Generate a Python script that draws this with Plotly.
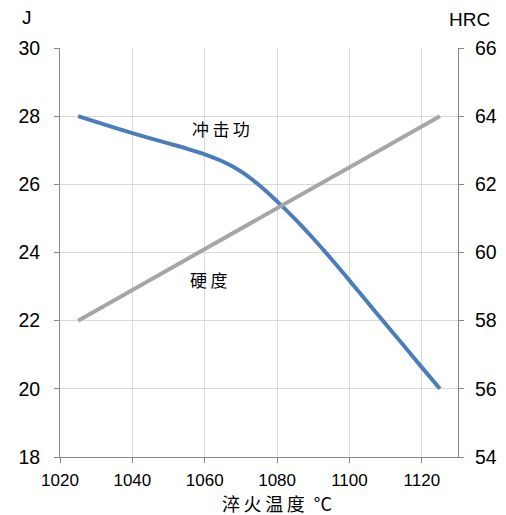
import plotly.graph_objects as go

temps_impact = [1025, 1030, 1035, 1040, 1045, 1050, 1055, 1060, 1065, 1070, 1075,
                1080, 1085, 1090, 1095, 1100, 1105, 1110, 1115, 1120, 1125]
impact_J = [28.00, 27.83, 27.665, 27.505, 27.35, 27.20, 27.05, 26.88, 26.67, 26.38, 25.98,
            25.50, 24.98, 24.41, 23.81, 23.18, 22.54, 21.90, 21.27, 20.63, 20.00]

temps_hard = [1025, 1050, 1075, 1100, 1125]
hardness_HRC = [58.0, 59.5, 61.0, 62.5, 64.0]

x_ticks = [1020, 1040, 1060, 1080, 1100, 1120]
left_ticks = [18, 20, 22, 24, 26, 28, 30]
right_ticks = [54, 56, 58, 60, 62, 64, 66]

font_latin = "Liberation Sans, Arial, sans-serif"
font_cjk = "Noto Sans CJK SC, sans-serif"

W, H = 506, 515
ML, MR, MT, MB = 60, 48, 48, 58

fig = go.Figure()
fig.add_trace(go.Scatter(
    x=temps_impact, y=impact_J, mode="lines",
    line=dict(color="#4a7ebb", width=4, shape="spline", smoothing=1.0),
    yaxis="y", showlegend=False, hoverinfo="skip"))
fig.add_trace(go.Scatter(
    x=temps_hard, y=hardness_HRC, mode="lines",
    line=dict(color="#a6a6a6", width=4),
    yaxis="y2", showlegend=False, hoverinfo="skip"))

axis_common = dict(
    showline=True, linecolor="#868686", linewidth=1,
    ticks="outside", ticklen=5, tickcolor="#868686",
    zeroline=False, automargin=False,
)

fig.update_layout(
    width=W, height=H,
    margin=dict(l=ML, r=MR, t=MT, b=MB),
    paper_bgcolor="white", plot_bgcolor="white",
    xaxis=dict(range=[1020, 1130], tickvals=x_ticks,
               showgrid=True, gridcolor="#d9d9d9", gridwidth=1,
               tickfont=dict(family=font_latin, size=17, color="#000000"),
               ticklabelstandoff=3, **axis_common),
    yaxis=dict(range=[18, 30], tickvals=left_ticks,
               showgrid=True, gridcolor="#d9d9d9", gridwidth=1,
               tickfont=dict(family=font_latin, size=19.5, color="#000000"),
               ticklabelstandoff=10, **axis_common),
    yaxis2=dict(range=[54, 66], tickvals=right_ticks, overlaying="y",
                side="right", showgrid=False,
                tickfont=dict(family=font_latin, size=19.5, color="#000000"),
                ticklabelstandoff=7, **axis_common),
)

pw = W - ML - MR
ph = H - MT - MB


def px_ann(px, py, text, family, size):
    return dict(x=(px - ML) / pw, y=1 - (py - MT) / ph, xref="paper", yref="paper",
                text=text, showarrow=False, xanchor="center", yanchor="middle",
                font=dict(family=family, size=size, color="#000000"))


fig.update_layout(annotations=[
    dict(x=1064.5, y=27.65, xref="x", yref="y", text="冲\u2009击\u2009功", showarrow=False,
         font=dict(family=font_cjk, size=17, color="#000000")),
    dict(x=1061, y=23.2, xref="x", yref="y", text="硬\u2009度", showarrow=False,
         font=dict(family=font_cjk, size=17, color="#000000")),
    px_ann(277, 503, "淬\u2009火\u2009温\u2009度\u2002°C", font_cjk, 18),
    px_ann(27, 18, "J", font_latin, 19),
    px_ann(470, 19, "HRC", font_latin, 19),
])

fig.write_html("out.html", config={"displayModeBar": False},
               post_script="document.body.style.margin='0';")
